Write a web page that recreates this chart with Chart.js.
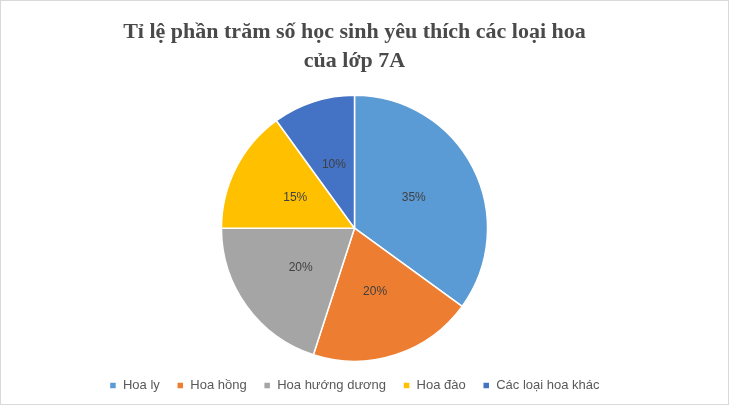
<!DOCTYPE html>
<html><head><meta charset="utf-8">
<script src="https://cdn.jsdelivr.net/npm/chart.js@4"></script>
<style>
body{margin:0;background:#fff}
#wrap{position:absolute;left:0;top:0;width:729px;height:405px;border:1px solid #d9d9d9;box-sizing:border-box}
</style></head><body>
<div id="wrap"><canvas id="c"></canvas></div>
<script>
const labels = ['Hoa ly', 'Hoa hồng', 'Hoa hướng dương', 'Hoa đào', 'Các loại hoa khác'];
const values = [35, 20, 20, 15, 10];
const colors = ['#5B9BD5', '#ED7D31', '#A5A5A5', '#FFC000', '#4472C4'];

// percent labels at the middle of each slice
const sliceLabels = {
  id: 'sliceLabels',
  afterDatasetsDraw(chart) {
    const ctx = chart.ctx;
    ctx.save();
    ctx.font = '12px "Liberation Sans", Arial';
    ctx.fillStyle = '#404040';
    ctx.textAlign = 'center';
    ctx.textBaseline = 'middle';
    chart.getDatasetMeta(0).data.forEach((arc, i) => {
      const p = arc.tooltipPosition();
      ctx.fillText(values[i] + '%', p.x, p.y);
    });
    ctx.restore();
  }
};

new Chart(document.getElementById('c'), {
  type: 'pie',
  data: {
    labels: labels,
    datasets: [{ data: values, backgroundColor: colors, borderColor: '#fff', borderWidth: 1.5 }]
  },
  options: {
    responsive: true,
    maintainAspectRatio: false,
    animation: false,
    layout: { padding: { bottom: 2, right: 20 } },
    plugins: {
      title: {
        display: true,
        text: ['Tỉ lệ phần trăm số học sinh yêu thích các loại hoa', 'của lớp 7A'],
        color: '#4a4a4a',
        font: { family: '"Liberation Serif", "Times New Roman", serif', size: 22, weight: 'bold', lineHeight: 1.35 },
        padding: { top: 16, bottom: 18 }
      },
      legend: {
        position: 'bottom',
        labels: { color: '#595959', boxWidth: 7, boxHeight: 7, padding: 17, font: { family: '"Liberation Sans", Arial', size: 13 } }
      },
      tooltip: { enabled: false }
    }
  },
  plugins: [sliceLabels]
});
</script>
</body></html>
